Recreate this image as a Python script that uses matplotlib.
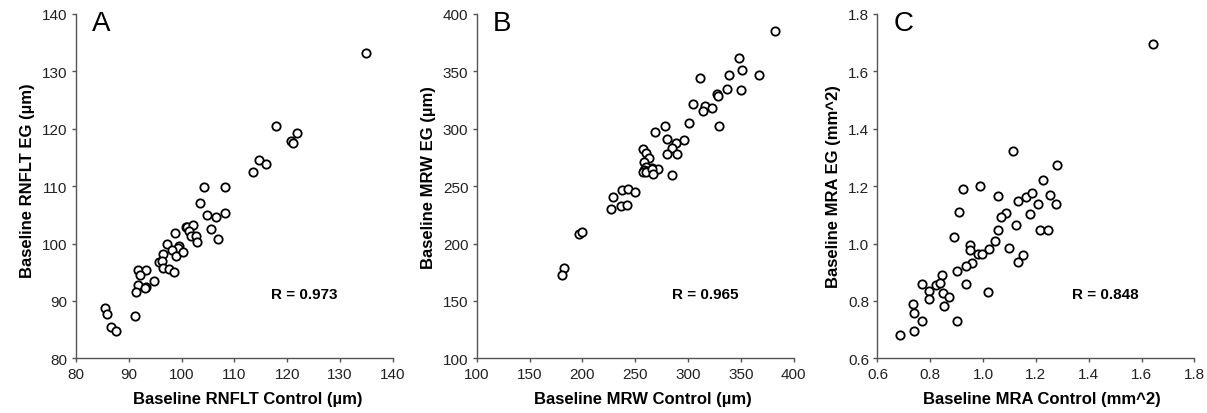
import matplotlib
matplotlib.use("Agg")
import matplotlib.pyplot as plt

plt.rcParams['font.family'] = ['Liberation Sans', 'DejaVu Sans']

# Panel A - RNFLT (um)
rnflt_control = [134.9, 117.9, 121.8, 120.7, 121.1, 114.7, 115.9, 113.6, 104.3, 108.2,
                 103.5, 104.8, 106.5, 108.3, 105.6, 106.9, 98.8, 100.8, 101.0, 102.2,
                 101.4, 101.8, 102.7, 102.9, 97.3, 99.5, 99.3, 98.2, 99.0, 100.3,
                 96.4, 95.7, 96.3, 96.4, 97.6, 98.5, 91.8, 93.3, 92.1, 94.8,
                 91.8, 93.3, 93.1, 91.4, 91.1, 85.4, 85.8, 86.7, 87.6]
rnflt_eg = [133.2, 120.4, 119.2, 117.9, 117.5, 114.5, 113.8, 112.5, 109.9, 109.9,
            107.1, 105.0, 104.7, 105.4, 102.6, 100.8, 101.8, 102.9, 102.8, 103.2,
            102.1, 101.3, 101.3, 100.3, 100.0, 99.5, 99.2, 98.8, 97.9, 98.5,
            98.2, 96.7, 96.9, 95.8, 95.6, 95.0, 95.4, 95.4, 94.5, 93.4,
            92.7, 92.5, 92.2, 91.6, 87.3, 88.7, 87.7, 85.5, 84.8]

# Panel B - MRW (um)
mrw_control = [382.6, 348.5, 351.3, 367.1, 339.0, 311.6, 337.1, 350.4, 327.3, 328.3,
               304.6, 316.0, 314.4, 323.2, 329.6, 301.1, 278.7, 268.9, 280.3, 296.4,
               289.1, 284.4, 280.0, 289.8, 257.2, 260.0, 263.5, 258.8, 266.1, 271.5,
               260.4, 258.5, 261.0, 257.6, 260.4, 265.8, 267.0, 284.7, 237.7, 243.0,
               249.4, 228.8, 226.9, 236.7, 242.1, 196.9, 199.8, 182.4, 180.8]
mrw_eg = [385.5, 361.7, 351.2, 346.6, 346.6, 344.3, 334.4, 333.5, 330.3, 328.9,
          321.3, 319.9, 315.5, 318.1, 302.4, 305.1, 302.4, 296.9, 291.1, 290.2,
          287.6, 283.3, 278.0, 278.0, 282.4, 278.9, 274.3, 270.8, 265.5, 265.0,
          267.0, 264.4, 263.5, 262.1, 262.1, 265.0, 260.3, 259.5, 246.7, 247.5,
          245.2, 240.9, 230.1, 232.4, 233.9, 208.0, 210.4, 179.0, 172.3]

# Panel C - MRA (mm^2)
mra_control = [1.642, 1.114, 1.279, 1.228, 0.922, 0.987, 1.058, 1.131, 1.162, 1.184,
               1.254, 1.209, 1.275, 1.179, 1.087, 1.068, 0.907, 1.126, 1.056, 1.216,
               1.247, 0.891, 1.045, 1.097, 1.023, 0.951, 0.951, 0.980, 0.996, 1.153,
               1.131, 0.957, 0.934, 0.903, 0.846, 0.770, 0.821, 0.837, 0.934, 0.796,
               0.850, 0.871, 0.796, 1.019, 0.851, 0.733, 0.738, 0.768, 0.903, 0.740,
               0.687]
mra_eg = [1.696, 1.321, 1.274, 1.220, 1.191, 1.202, 1.166, 1.147, 1.161, 1.177,
          1.168, 1.137, 1.137, 1.104, 1.108, 1.094, 1.110, 1.065, 1.048, 1.048,
          1.048, 1.022, 1.010, 0.985, 0.981, 0.994, 0.978, 0.964, 0.964, 0.961,
          0.935, 0.931, 0.922, 0.906, 0.892, 0.859, 0.856, 0.861, 0.860, 0.836,
          0.828, 0.815, 0.807, 0.830, 0.784, 0.788, 0.758, 0.729, 0.731, 0.696,
          0.680]

panels = [
    ("A", rnflt_control, rnflt_eg, (80, 140), list(range(80, 141, 10)),
     "Baseline RNFLT Control (µm)", "Baseline RNFLT EG (µm)", "R = 0.973", "{:.0f}"),
    ("B", mrw_control, mrw_eg, (100, 400), list(range(100, 401, 50)),
     "Baseline MRW Control (µm)", "Baseline MRW EG (µm)", "R = 0.965", "{:.0f}"),
    ("C", mra_control, mra_eg, (0.6, 1.8), [0.6, 0.8, 1.0, 1.2, 1.4, 1.6, 1.8],
     "Baseline MRA Control (mm^2)", "Baseline MRA EG (mm^2)", "R = 0.848", "{:.1f}"),
]

fig = plt.figure(figsize=(12.07, 4.14), dpi=100)
lefts = [0.063, 0.395, 0.727]
# label placement (axes fractions) to follow the original layout
xlab_x = [0.541, 0.523, 0.519]
ylab_pos = [(-0.129, 0.519), (-0.129, 0.528), (-0.116, 0.502)]

for i, (letter, xs, ys, lim, ticks, xlab, ylab, rtxt, fmt) in enumerate(panels):
    ax = fig.add_axes([lefts[i], 0.132, 0.2625, 0.832])
    ax.scatter(xs, ys, s=36, facecolors='white', edgecolors='black',
               linewidths=1.3, zorder=3, clip_on=False)
    ax.set_xlim(lim)
    ax.set_ylim(lim)
    ax.set_xticks(ticks)
    ax.set_yticks(ticks)
    ax.set_xticklabels([fmt.format(t) for t in ticks])
    ax.set_yticklabels([fmt.format(t) for t in ticks])
    for side in ['top', 'right']:
        ax.spines[side].set_visible(False)
    for side in ['left', 'bottom']:
        ax.spines[side].set_color('#555555')
        ax.spines[side].set_linewidth(1.0)
    ax.tick_params(direction='out', length=3, width=1, color='#555555',
                   labelsize=11, labelcolor='#222222', pad=3)
    ax.set_xlabel(xlab, fontsize=12, fontweight='bold')
    ax.set_ylabel(ylab, fontsize=12, fontweight='bold')
    ax.xaxis.set_label_coords(xlab_x[i], -0.095)
    ax.yaxis.set_label_coords(*ylab_pos[i])
    ax.text(0.05, 1.01, letter, transform=ax.transAxes, fontsize=20,
            va='top', ha='left')
    ax.text(0.72, 0.187, rtxt, transform=ax.transAxes, fontsize=11,
            fontweight='bold', ha='center', va='center')

fig.savefig("out.png", dpi=100)
